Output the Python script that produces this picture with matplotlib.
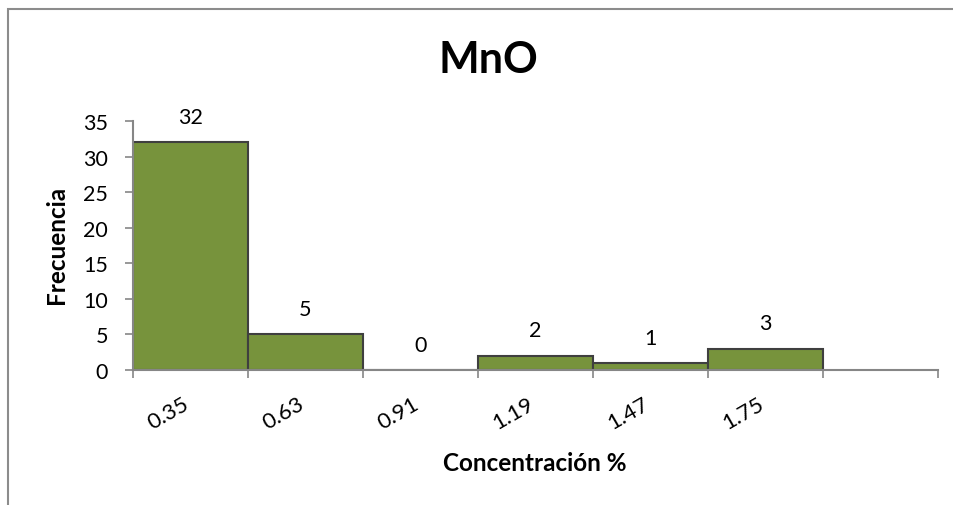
import numpy as np
import matplotlib.pyplot as plt
import matplotlib.transforms as mtransforms
from matplotlib.patches import Rectangle

# datos del histograma
categorias = ["0.35", "0.63", "0.91", "1.19", "1.47", "1.75", ""]
frecuencias = [32, 5, 0, 2, 1, 3, np.nan]

plt.rcParams['font.family'] = ['Lato', 'DejaVu Sans']

verde = '#77933C'
gris_eje = '#868686'

fig = plt.figure(figsize=(9.54, 5.06), dpi=100)
ax = fig.add_axes([133 / 954, 1 - 371 / 506, (938 - 133) / 954, (371 - 122) / 506])

x = np.arange(len(categorias))
ax.bar(x, frecuencias, width=1.0, color=verde, edgecolor='#3f3f3f', linewidth=1.5, zorder=2)

# etiquetas de valor sobre las barras
for xi, v in zip(x, frecuencias):
    if np.isnan(v):
        continue
    ax.annotate(str(int(v)), (xi, v), xytext=(0, 11), textcoords='offset points',
                ha='center', va='bottom', fontsize=15.5)

ax.set_xlim(-0.5, len(categorias) - 0.5)
ax.set_ylim(0, 35)
ax.set_yticks(range(0, 36, 5))
ax.tick_params(axis='y', labelsize=15.5, length=6, width=1.2, color=gris_eje, pad=12)

# ticks del eje x entre las barras, etiquetas en el centro
ax.set_xticks(np.arange(-0.5, len(categorias)), minor=False)
ax.set_xticklabels([])
ax.tick_params(axis='x', length=6, width=1.2, color=gris_eje)
ax.set_xticks(x, minor=True)
etiquetas = ax.set_xticklabels(categorias, minor=True, rotation=30, ha='right', va='center',
                               rotation_mode='anchor', fontsize=16)
ax.tick_params(axis='x', which='minor', length=0, pad=23)
desplaza = mtransforms.ScaledTranslation(-3 / 100, 0, fig.dpi_scale_trans)
for t in etiquetas:
    t.set_transform(t.get_transform() + desplaza)

for lado in ['top', 'right']:
    ax.spines[lado].set_visible(False)
for lado in ['left', 'bottom']:
    ax.spines[lado].set_color(gris_eje)
    ax.spines[lado].set_linewidth(1.5)

fig.text(57 / 954, 1 - 245 / 506, 'Frecuencia', ha='center', va='center', rotation=90,
         fontsize=17.5, fontweight='bold')
fig.text(535 / 954, 1 - 464 / 506, 'Concentración %', ha='center', va='center',
         fontsize=17.5, fontweight='bold')
fig.text(488 / 954, 1 - 60 / 506, 'MnO', ha='center', va='center',
         fontsize=31, fontweight='bold')

# borde del área del gráfico (recortado a la derecha y abajo)
fig.patches.append(Rectangle((8 / 954, -0.1), 1.2, 1 - 10 / 506 + 0.1,
                             transform=fig.transFigure, fill=False,
                             edgecolor='#8c8c8c', linewidth=1.5))

fig.savefig('out.png', dpi=100)
